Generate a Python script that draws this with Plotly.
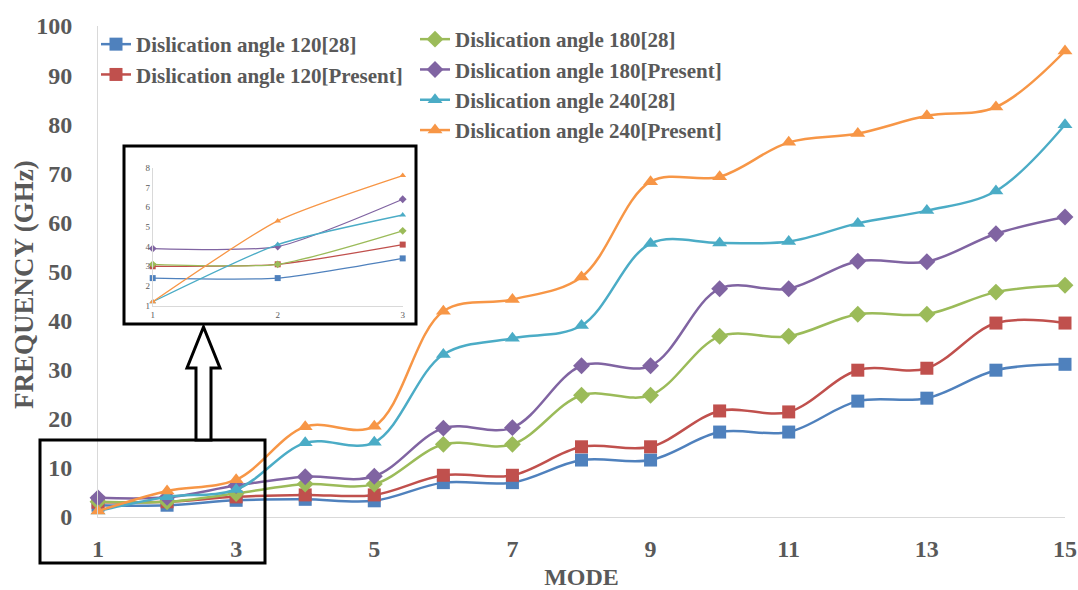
import plotly.graph_objects as go

modes = list(range(1, 16))
blue_120_28 = [2.4, 2.4, 3.4, 3.6, 3.3, 7.0, 7.0, 11.6, 11.6, 17.3, 17.3, 23.6, 24.2, 29.9, 31.1]
red_120_present = [3.0, 3.1, 4.1, 4.5, 4.5, 8.5, 8.5, 14.3, 14.3, 21.6, 21.4, 29.9, 30.3, 39.5, 39.5]
green_180_28 = [3.1, 3.1, 4.8, 6.7, 6.7, 14.8, 14.8, 24.8, 24.8, 36.8, 36.8, 41.3, 41.3, 45.8, 47.2]
purple_180_present = [3.9, 4.0, 6.4, 8.2, 8.3, 18.1, 18.2, 30.8, 30.8, 46.5, 46.5, 52.1, 52.0, 57.7, 61.1]
cyan_240_28 = [1.2, 4.1, 5.6, 15.1, 15.2, 33.1, 36.4, 39.0, 55.7, 55.8, 56.1, 59.8, 62.4, 66.4, 79.9]
orange_240_present = [1.2, 5.3, 7.6, 18.4, 18.5, 41.9, 44.3, 48.9, 68.3, 69.3, 76.3, 78.1, 81.7, 83.5, 94.9]

names = ["Dislication angle 120[28]", "Dislication angle 120[Present]",
         "Dislication angle 180[28]", "Dislication angle 180[Present]",
         "Dislication angle 240[28]", "Dislication angle 240[Present]"]
series = [blue_120_28, red_120_present, green_180_28, purple_180_present, cyan_240_28, orange_240_present]
colors = ["#4F81BD", "#C0504D", "#9BBB59", "#8064A2", "#4BACC6", "#F79646"]
symbols = ["square", "square", "diamond", "diamond", "triangle-up", "triangle-up"]
legends = ["legend", "legend", "legend2", "legend2", "legend2", "legend2"]
inset_modes = modes[:3]

W, H = 1078, 590
L, R, T, B = 98, 13, 26, 73
PW, PH = W - L - R, H - T - B


def px(x):
    return (x - L) / PW


def py(y):
    return (H - B - y) / PH


fig = go.Figure()
for name, ys, c, s, lg in zip(names, series, colors, symbols, legends):
    fig.add_trace(go.Scatter(
        x=modes, y=ys, name=name, mode="lines+markers",
        line=dict(color=c, width=2.5, shape="spline", smoothing=1.0),
        marker=dict(symbol=s, size=13, color=c),
        cliponaxis=False, legend=lg))
for name, ys, c, s in zip(names, series, colors, symbols):
    fig.add_trace(go.Scatter(
        x=inset_modes, y=ys[:3], name=name, mode="lines+markers",
        line=dict(color=c, width=1.3, shape="spline", smoothing=0.6),
        marker=dict(symbol=s, size=6, color=c),
        cliponaxis=False, showlegend=False, xaxis="x2", yaxis="y2"))

tick_font = dict(family="Liberation Serif", size=24, color="#595959", weight="bold")
small_font = dict(family="Liberation Serif", size=9, color="#595959")
legend_font = dict(family="Liberation Serif", size=21, color="#595959", weight="bold")

shapes = [
    # inset background and frame
    dict(type="rect", xref="paper", yref="paper", x0=px(124), x1=px(416), y0=py(324), y1=py(146),
         line=dict(color="black", width=3), fillcolor="white", layer="below"),
    # highlight box around modes 1-3
    dict(type="rect", xref="paper", yref="paper", x0=px(40), x1=px(265), y0=py(563), y1=py(440),
         line=dict(color="black", width=3), fillcolor="rgba(0,0,0,0)", layer="above"),
]
arrow_pts = [(196, 440), (196, 368), (187, 368), (203.5, 327), (220, 368), (211, 368), (211, 440)]
path = "M " + " L ".join(f"{px(a):.5f},{py(b):.5f}" for a, b in arrow_pts) + " Z"
shapes.append(dict(type="path", xref="paper", yref="paper", path=path,
                   line=dict(color="black", width=3), fillcolor="white", layer="above"))

annotations = [
    dict(text="FREQUENCY (GHz)", xref="paper", yref="paper", x=px(24), y=py(285),
         xanchor="center", yanchor="middle", textangle=-90, showarrow=False,
         font=dict(family="Liberation Serif", size=27, color="#595959", weight="bold")),
]

fig.update_layout(
    width=W, height=H,
    margin=dict(l=L, r=R, t=T, b=B, autoexpand=False),
    paper_bgcolor="white", plot_bgcolor="white",
    xaxis=dict(range=[1, 15], tickvals=[1, 3, 5, 7, 9, 11, 13, 15], showgrid=False, zeroline=False,
               showline=True, linecolor="#D9D9D9", linewidth=1, tickfont=tick_font, ticks="",
               ticklabelstandoff=10, automargin=False,
               title=dict(text="MODE", font=tick_font, standoff=9)),
    yaxis=dict(range=[0, 100], dtick=10, showgrid=False, zeroline=False,
               showline=True, linecolor="#D9D9D9", linewidth=1, tickfont=tick_font, ticks="",
               ticklabelstandoff=20, automargin=False),
    xaxis2=dict(domain=[px(152.7), px(402.7)], anchor="y2", range=[1, 3], tickvals=[1, 2, 3],
                showgrid=False, zeroline=False, showline=True, linecolor="#D9D9D9", linewidth=1,
                tickfont=small_font, ticks="", automargin=False),
    yaxis2=dict(domain=[py(305.7), py(167.7)], anchor="x2", range=[1, 8], dtick=1,
                showgrid=False, zeroline=False, showline=True, linecolor="#D9D9D9", linewidth=1,
                tickfont=small_font, ticks="", automargin=False),
    legend=dict(x=px(96), y=py(24), xanchor="left", yanchor="top", bgcolor="rgba(0,0,0,0)",
                font=legend_font, itemwidth=30, traceorder="normal"),
    legend2=dict(x=px(415), y=py(19), xanchor="left", yanchor="top", bgcolor="rgba(0,0,0,0)",
                 font=legend_font, itemwidth=30, traceorder="normal"),
    shapes=shapes,
    annotations=annotations,
    showlegend=True,
)

fig.write_html("out.html", config={"displayModeBar": False},
               post_script="document.body.style.margin='0';document.body.style.overflow='hidden';")
